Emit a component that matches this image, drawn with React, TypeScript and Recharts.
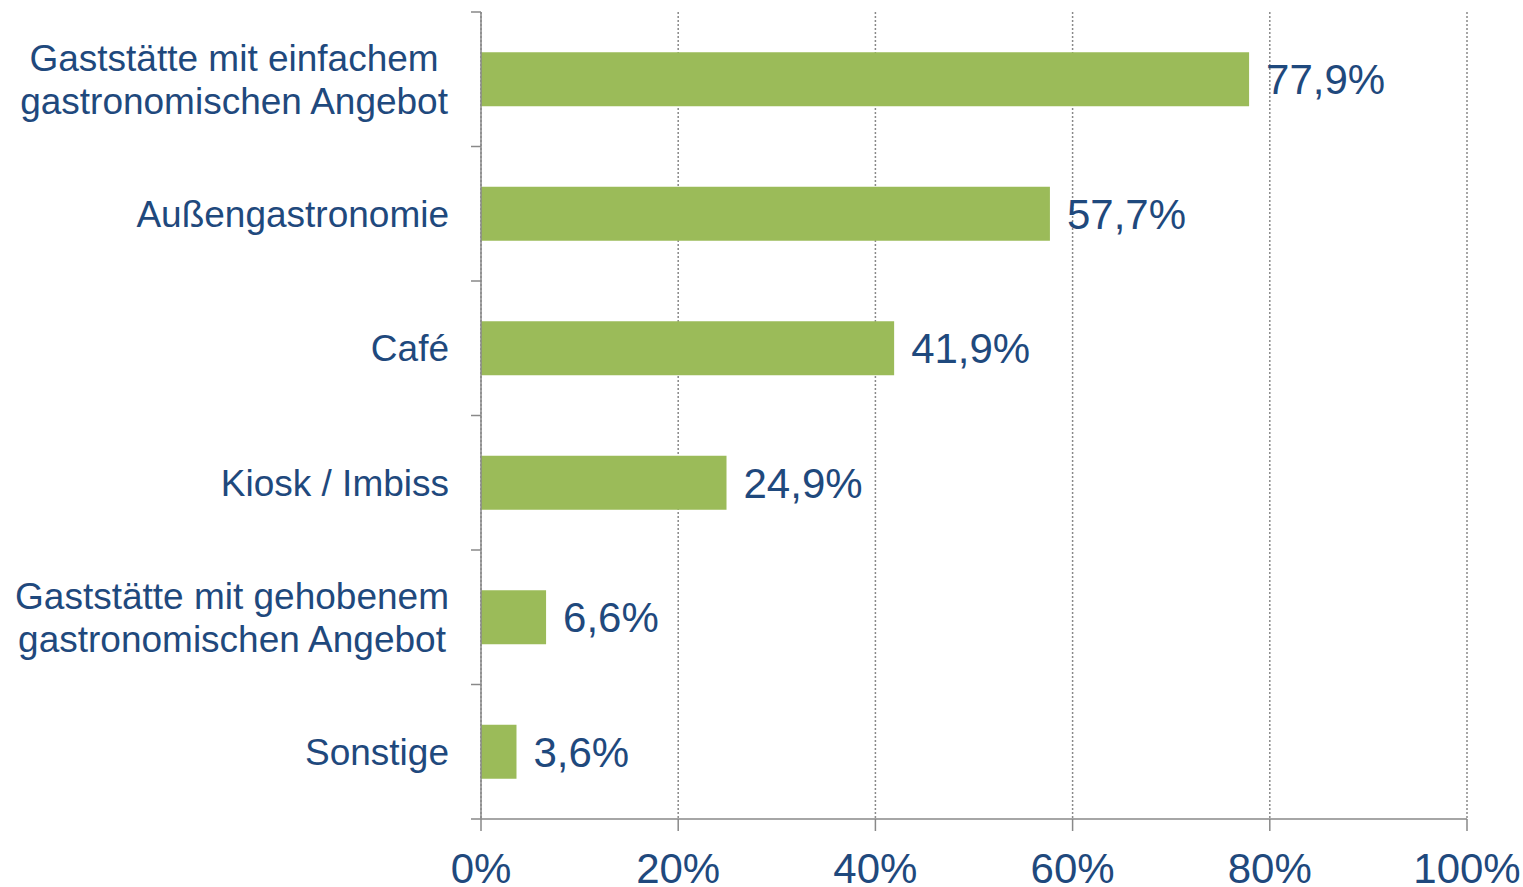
import React from 'react';
import { BarChart, Bar, XAxis, YAxis, CartesianGrid, LabelList } from 'recharts';

const categories = [
  'Gaststätte mit einfachem\ngastronomischen Angebot',
  'Außengastronomie',
  'Café',
  'Kiosk / Imbiss',
  'Gaststätte mit gehobenem\ngastronomischen Angebot',
  'Sonstige',
];
const values = [77.9, 57.7, 41.9, 24.9, 6.6, 3.6];
const xTicks = [0, 20, 40, 60, 80, 100];

const data = categories.map((c, i) => ({ name: c, value: values[i] }));

const TEXT = '#1F497D';
const AXIS = '#898989';
const FONT = '"Liberation Sans", Arial, sans-serif';
const CAT_SIZE = 37;

const fmtPct = (v: number) => v.toFixed(1).replace('.', ',') + '%';

let ctx: CanvasRenderingContext2D | null = null;
const measure = (s: string) => {
  if (!ctx) {
    const c = document.createElement('canvas');
    ctx = c.getContext('2d');
  }
  if (!ctx) return s.length * CAT_SIZE * 0.5;
  ctx.font = `${CAT_SIZE}px "Liberation Sans", Arial, sans-serif`;
  return ctx.measureText(s).width;
};

const CategoryTick = (props: any) => {
  const { x, y, payload, index } = props;
  const half = payload && typeof payload.offset === 'number' ? payload.offset : 807 / 12;
  const lines = String(payload.value).split('\n');
  const lh = 43;
  const axisX = x + 32;
  const maxW = Math.max(...lines.map(measure));
  const cx = lines.length > 1 ? x - maxW / 2 : x;
  const anchor = lines.length > 1 ? 'middle' : 'end';
  return (
    <g>
      <line x1={axisX - 10} x2={axisX} y1={y - half} y2={y - half} stroke={AXIS} strokeWidth={1.5} />
      {index === categories.length - 1 && (
        <line x1={axisX - 10} x2={axisX} y1={y + half} y2={y + half} stroke={AXIS} strokeWidth={1.5} />
      )}
      <text x={cx} y={y} textAnchor={anchor} fill={TEXT} fontSize={CAT_SIZE} fontFamily={FONT}>
        {lines.map((l, i) => (
          <tspan key={i} x={cx} y={y + (i - (lines.length - 1) / 2) * lh} dy="0.35em">
            {l}
          </tspan>
        ))}
      </text>
    </g>
  );
};

export default function App() {
  return (
    <div style={{ position: 'absolute', left: 0, top: 0 }}>
      <BarChart
        width={1523}
        height={887}
        data={data}
        layout="vertical"
        margin={{ top: 12, right: 56, bottom: 0, left: 0 }}
        barCategoryGap="30%"
      >
        <CartesianGrid horizontal={false} vertical stroke={AXIS} strokeDasharray="2 2" strokeWidth={1.5} />
        <XAxis
          type="number"
          domain={[0, 100]}
          ticks={xTicks}
          tickFormatter={(v: number) => `${v}%`}
          height={68}
          tickSize={12}
          tickMargin={22}
          axisLine={{ stroke: AXIS, strokeWidth: 1.5 }}
          tickLine={{ stroke: AXIS, strokeWidth: 1.5 }}
          tick={{ fill: TEXT, fontSize: 42, fontFamily: FONT }}
          interval={0}
        />
        <YAxis
          type="category"
          dataKey="name"
          width={481}
          tickSize={10}
          tickMargin={22}
          tickLine={false}
          axisLine={{ stroke: AXIS, strokeWidth: 1.5 }}
          tick={<CategoryTick />}
          interval={0}
        />
        <Bar dataKey="value" fill="#9BBB59" isAnimationActive={false}>
          <LabelList
            dataKey="value"
            position="right"
            offset={17}
            formatter={(v: any) => fmtPct(Number(v))}
            fill={TEXT}
            fontSize={42}
            fontFamily={FONT}
          />
        </Bar>
      </BarChart>
    </div>
  );
}
